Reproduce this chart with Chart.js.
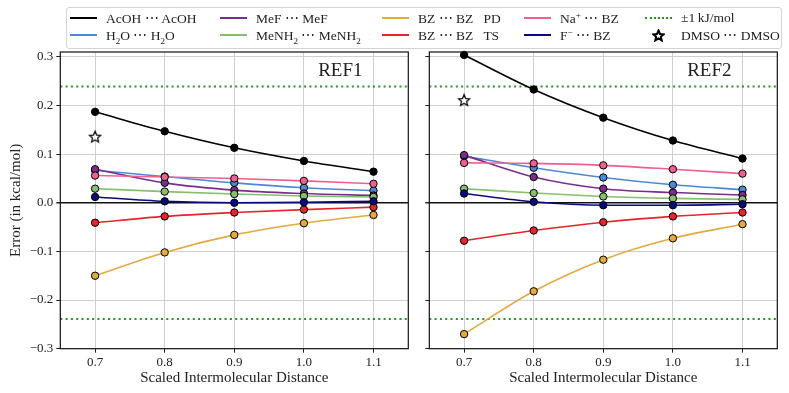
<!DOCTYPE html>
<html>
<head>
<meta charset="utf-8">
<script src="https://cdn.jsdelivr.net/npm/chart.js@4.4.0/dist/chart.umd.min.js"></script>
<style>
  body { margin: 0; background: #fff; width: 789px; height: 393px; overflow: hidden; position: relative; font-family: "Liberation Serif", serif; }
  #c1 { position: absolute; left: 0; top: 0; }
  #c2 { position: absolute; left: 415px; top: 0; }
  #legend { position: absolute; left: 66px; top: 7px; width: 716px; height: 42px; border: 1px solid #d4d4d4; border-radius: 3px; box-sizing: border-box; }
  .item { position: absolute; display: flex; align-items: center; height: 16px; font-size: 13.5px; color: #222; white-space: nowrap; }
  .swatch { width: 27px; height: 0; border-top: 2px solid; margin-right: 9px; }
  .mark { width: 27px; margin-right: 9px; display: flex; justify-content: center; }
  sub, sup { font-size: 9px; line-height: 0; }
</style>
</head>
<body>
<canvas id="c1" width="415" height="393"></canvas>
<canvas id="c2" width="374" height="393"></canvas>
<div id="legend"></div>

<script>
// scaled distances on the x axis
const distances = [0.7, 0.8, 0.9, 1.0, 1.1];
const yTicks = [-0.3, -0.2, -0.1, 0.0, 0.1, 0.2, 0.3];
const kJLimit = 0.239; // 1 kJ/mol in kcal/mol

const seriesNames = ["AcOH ⋯ AcOH", "H2O ⋯ H2O", "MeF ⋯ MeF", "MeNH2 ⋯ MeNH2",
  "BZ ⋯ BZ  PD", "BZ ⋯ BZ  TS", "Na+ ⋯ BZ", "F− ⋯ BZ"];
const seriesLegend = ["AcOH ⋯ AcOH", "H<sub>2</sub>O ⋯ H<sub>2</sub>O", "MeF ⋯ MeF",
  "MeNH<sub>2</sub> ⋯ MeNH<sub>2</sub>", "BZ ⋯ BZ&nbsp;&nbsp;&nbsp;PD", "BZ ⋯ BZ&nbsp;&nbsp;&nbsp;TS",
  "Na<sup>+</sup> ⋯ BZ", "F<sup>−</sup> ⋯ BZ"];
const seriesColors = ["#000000", "#4a89d8", "#7b2d8e", "#86c06f",
  "#e2aa3f", "#e3262b", "#f0608e", "#0b0b80"];

// REF1 errors (kcal/mol)
const ref1AcOH  = [0.187, 0.147, 0.113, 0.086, 0.064];
const ref1H2O   = [0.067, 0.054, 0.041, 0.031, 0.025];
const ref1MeF   = [0.069, 0.041, 0.026, 0.019, 0.015];
const ref1MeNH2 = [0.029, 0.023, 0.018, 0.014, 0.012];
const ref1BzPD  = [-0.150, -0.102, -0.066, -0.042, -0.025];
const ref1BzTS  = [-0.041, -0.028, -0.020, -0.014, -0.009];
const ref1NaBz  = [0.056, 0.053, 0.050, 0.045, 0.039];
const ref1FBz   = [0.012, 0.003, 0.000, 0.001, 0.003];
const ref1DMSO  = 0.136;

// REF2 errors (kcal/mol)
const ref2AcOH  = [0.304, 0.233, 0.175, 0.128, 0.091];
const ref2H2O   = [0.096, 0.072, 0.052, 0.037, 0.027];
const ref2MeF   = [0.098, 0.053, 0.029, 0.021, 0.016];
const ref2MeNH2 = [0.029, 0.020, 0.013, 0.009, 0.007];
const ref2BzPD  = [-0.270, -0.182, -0.117, -0.073, -0.044];
const ref2BzTS  = [-0.078, -0.057, -0.040, -0.028, -0.020];
const ref2NaBz  = [0.082, 0.081, 0.077, 0.069, 0.060];
const ref2FBz   = [0.019, 0.002, -0.005, -0.005, -0.003];
const ref2DMSO  = 0.211;

Chart.defaults.font.family = '"Liberation Serif", serif';
Chart.defaults.color = "#222";

// open star marker, matplotlib style
function starImage(size, lw) {
  const c = document.createElement("canvas");
  c.width = c.height = size;
  const ctx = c.getContext("2d");
  const R = size / 2 - 1, r = R * 0.45, cx = size / 2, cy = size / 2 + 0.5;
  ctx.beginPath();
  for (let i = 0; i < 10; i++) {
    const a = -Math.PI / 2 + i * Math.PI / 5;
    const rad = i % 2 ? r : R;
    ctx.lineTo(cx + rad * Math.cos(a), cy + rad * Math.sin(a));
  }
  ctx.closePath();
  ctx.fillStyle = "#fff";
  ctx.fill();
  ctx.lineWidth = lw;
  ctx.strokeStyle = "#000";
  ctx.stroke();
  return c;
}
const star = starImage(14, 1.2);

const frame = {
  id: "frame",
  afterDatasetsDraw(chart) {
    const { ctx, chartArea: a } = chart;
    ctx.save();
    ctx.strokeStyle = "#111";
    ctx.lineWidth = 1.2;
    ctx.strokeRect(a.left, a.top, a.right - a.left, a.bottom - a.top);
    ctx.restore();
  },
};

const panelTitle = {
  id: "panelTitle",
  afterDraw(chart, args, opts) {
    const { ctx, chartArea: a } = chart;
    ctx.save();
    ctx.font = '19px "Liberation Serif", serif';
    ctx.fillStyle = "#222";
    ctx.textAlign = "center";
    ctx.textBaseline = "middle";
    ctx.fillText(opts.text, a.right - 68, a.top + 19);
    ctx.restore();
  },
};

function panelDatasets(values, dmso) {
  const ds = [];
  [kJLimit, -kJLimit].forEach((v) => {
    ds.push({
      data: [{ x: 0.65, y: v }, { x: 1.15, y: v }],
      borderColor: "#1f9a1f",
      borderDash: [2, 3.3],
      borderWidth: 2,
      pointRadius: 0,
      order: 10,
    });
  });
  values.forEach((vals, i) => {
    ds.push({
      label: seriesNames[i],
      data: distances.map((x, j) => ({ x: x, y: vals[j] })),
      borderColor: seriesColors[i],
      backgroundColor: seriesColors[i],
      pointBorderColor: "#000",
      pointBorderWidth: 1,
      pointRadius: 3.7,
      borderWidth: 1.6,
      cubicInterpolationMode: "monotone",
      order: -i,
    });
  });
  ds.push({
    label: "DMSO ⋯ DMSO",
    data: [{ x: 0.7, y: dmso }],
    showLine: false,
    pointStyle: star,
    order: -20,
  });
  return ds;
}

function makePanel(id, values, dmso, title, left) {
  return new Chart(document.getElementById(id), {
    type: "line",
    data: { datasets: panelDatasets(values, dmso) },
    plugins: [frame, panelTitle],
    options: {
      responsive: false,
      animation: false,
      clip: false,
      layout: { padding: { top: 52, right: left ? 6.7 : 11.7, left: 0, bottom: 0 } },
      plugins: {
        legend: { display: false },
        tooltip: { enabled: false },
        panelTitle: { text: title },
      },
      scales: {
        x: {
          type: "linear",
          min: 0.65,
          max: 1.15,
          afterBuildTicks: (s) => { s.ticks = distances.map((v) => ({ value: v })); },
          afterFit: (s) => { s.height = 44.3; },
          ticks: { callback: (v) => v.toFixed(1), font: { size: 13 }, padding: 2, maxRotation: 0 },
          grid: { color: "#cfcfcf", tickColor: "#222", tickLength: 4 },
          border: { display: false },
          title: { display: true, text: "Scaled Intermolecular Distance", font: { size: 15 }, padding: { top: 0, bottom: 6 } },
        },
        y: {
          min: -0.3,
          max: 0.31,
          afterBuildTicks: (s) => { s.ticks = yTicks.map((v) => ({ value: v })); },
          afterFit: (s) => { s.width = left ? 60.3 : 14.3; },
          ticks: {
            display: left,
            callback: (v) => v.toFixed(1).replace("-", "−"),
            font: { size: 13 },
            padding: 3,
          },
          grid: {
            color: (c) => (c.tick && Math.abs(c.tick.value) < 1e-9 ? "#111" : "#cfcfcf"),
            lineWidth: (c) => (c.tick && Math.abs(c.tick.value) < 1e-9 ? 1.5 : 1),
            tickColor: "#222",
            tickLength: 4,
          },
          border: { display: false },
          title: { display: left, text: "Error (in kcal/mol)", font: { size: 15 }, padding: { top: 7, bottom: 0 } },
        },
      },
    },
  });
}

makePanel("c1", [ref1AcOH, ref1H2O, ref1MeF, ref1MeNH2, ref1BzPD, ref1BzTS, ref1NaBz, ref1FBz], ref1DMSO, "REF1", true);
makePanel("c2", [ref2AcOH, ref2H2O, ref2MeF, ref2MeNH2, ref2BzPD, ref2BzTS, ref2NaBz, ref2FBz], ref2DMSO, "REF2", false);

// legend, five columns by two rows
const legend = document.getElementById("legend");
const colX = [3, 153, 315, 457, 578];
const rowY = [2, 19];
function addItem(col, row, markHtml, textHtml) {
  const el = document.createElement("div");
  el.className = "item";
  el.style.left = colX[col] + "px";
  el.style.top = rowY[row] + "px";
  el.innerHTML = markHtml + "<span>" + textHtml + "</span>";
  legend.appendChild(el);
  return el;
}
seriesLegend.forEach((txt, i) => {
  addItem(Math.floor(i / 2), i % 2,
    '<span class="swatch" style="border-color:' + seriesColors[i] + '"></span>', txt);
});
addItem(4, 0, '<span class="swatch" style="border-top:2px dotted #1f9a1f"></span>', "±1&thinsp;kJ/mol");
const dm = addItem(4, 1, '<span class="mark"></span>', "DMSO ⋯ DMSO");
dm.querySelector(".mark").appendChild(starImage(13, 2));
</script>
</body>
</html>
